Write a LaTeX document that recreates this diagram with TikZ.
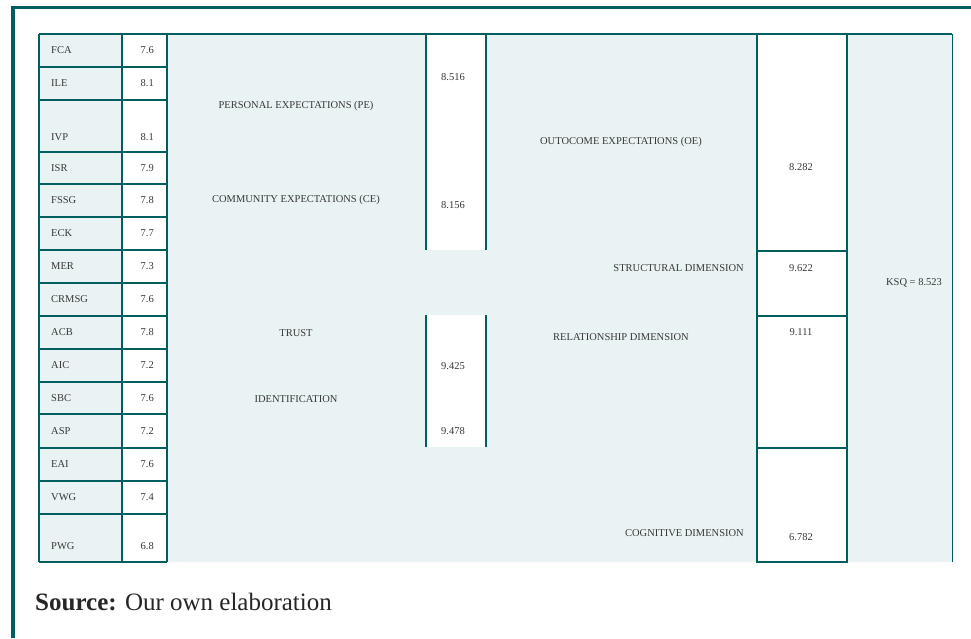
\documentclass[tikz,border=0pt]{standalone}
\usepackage{fontspec}
\setmainfont{Liberation Serif}
\usepackage{tikz}
\definecolor{framecolor}{RGB}{0,94,94}
\definecolor{cellfill}{RGB}{234,243,243}
\definecolor{textgray}{RGB}{55,55,55}

\begin{document}
\begin{tikzpicture}[
    x=1pt, y=-1pt,
    cell/.style={inner sep=0pt, font=\fontsize{10.5}{12}\selectfont, text=textgray},
    code/.style={cell, anchor=west},
    score/.style={cell, anchor=east},
    factor/.style={cell, anchor=center},
    gridline/.style={draw=framecolor, line width=1.8pt},
    thinline/.style={draw=framecolor, line width=0.8pt}
]
    \useasboundingbox (0,0) rectangle (971,638);

    % backgrounds
    \fill[cellfill] (39,34) rectangle (122,562);
    \fill[cellfill] (167,34) rectangle (757,562);
    \fill[white] (426,34) rectangle (486,250);
    \fill[white] (426,315) rectangle (486,447);
    \fill[cellfill] (847,34) rectangle (952,562);

    % outer frame
    \draw[framecolor, line width=3.5pt] (13,638) -- (13,7.5) -- (971,7.5);

    % grid
    \draw[gridline] (39,34) -- (952,34);
    \draw[thinline] (952,34) -- (952,562);
    \draw[gridline] (39,34) -- (39,562) (122,34) -- (122,562) (167,34) -- (167,562);
    \draw[gridline] (39,67) -- (167,67) (39,100) -- (167,100) (39,152) -- (167,152)
        (39,184) -- (167,184) (39,217) -- (167,217) (39,250) -- (167,250)
        (39,283) -- (167,283) (39,316) -- (167,316) (39,349) -- (167,349)
        (39,382) -- (167,382) (39,414) -- (167,414) (39,448) -- (167,448)
        (39,481) -- (167,481) (39,514) -- (167,514) (39,562) -- (167,562);
    \draw[gridline] (426,34) -- (426,250) (486,34) -- (486,250);
    \draw[gridline] (426,315) -- (426,447) (486,315) -- (486,447);
    \draw[gridline] (757,34) rectangle (847,562);
    \draw[gridline] (757,251) -- (847,251) (757,316) -- (847,316) (757,448) -- (847,448);

    % indicators
    \node[code] (fca) at (51,50.5) {FCA};     \node[score] (fcav) at (154,50.5) {7.6};
    \node[code] (ile) at (51,83.5) {ILE};     \node[score] (ilev) at (154,83.5) {8.1};
    \node[code] (ivp) at (51,137) {IVP};      \node[score] (ivpv) at (154,137) {8.1};
    \node[code] (isr) at (51,168) {ISR};      \node[score] (isrv) at (154,168) {7.9};
    \node[code] (fssg) at (51,200.5) {FSSG};  \node[score] (fssgv) at (154,200.5) {7.8};
    \node[code] (eck) at (51,233.5) {ECK};    \node[score] (eckv) at (154,233.5) {7.7};
    \node[code] (mer) at (51,266.5) {MER};    \node[score] (merv) at (154,266.5) {7.3};
    \node[code] (crmsg) at (51,299.5) {CRMSG}; \node[score] (crmsgv) at (154,299.5) {7.6};
    \node[code] (acb) at (51,332.5) {ACB};    \node[score] (acbv) at (154,332.5) {7.8};
    \node[code] (aic) at (51,365.5) {AIC};    \node[score] (aicv) at (154,365.5) {7.2};
    \node[code] (sbc) at (51,398) {SBC};      \node[score] (sbcv) at (154,398) {7.6};
    \node[code] (asp) at (51,431) {ASP};      \node[score] (aspv) at (154,431) {7.2};
    \node[code] (eai) at (51,464.5) {EAI};    \node[score] (eaiv) at (154,464.5) {7.6};
    \node[code] (vwg) at (51,497.5) {VWG};    \node[score] (vwgv) at (154,497.5) {7.4};
    \node[code] (pwg) at (51,546) {PWG};      \node[score] (pwgv) at (154,546) {6.8};

    % factors
    \node[factor] (pe) at (296,106) {PERSONAL EXPECTATIONS (PE)};
    \node[factor] (ce) at (296,200) {COMMUNITY EXPECTATIONS (CE)};
    \node[factor] (trust) at (296,333) {TRUST};
    \node[factor] (ident) at (296,399) {IDENTIFICATION};
    \node[factor] (pev) at (453,77) {8.516};
    \node[factor] (cev) at (453,205) {8.156};
    \node[factor] (trustv) at (453,366.5) {9.425};
    \node[factor] (identv) at (453,431.5) {9.478};

    % dimensions
    \node[factor] (oe) at (621,141.5) {OUTOCOME EXPECTATIONS (OE)};
    \node[cell, anchor=east] (sd) at (744,268) {STRUCTURAL DIMENSION};
    \node[factor] (rd) at (621,337) {RELATIONSHIP DIMENSION};
    \node[cell, anchor=east] (cd) at (744,533) {COGNITIVE DIMENSION};
    \node[factor] (oev) at (801,167) {8.282};
    \node[factor] (sdv) at (801,268) {9.622};
    \node[factor] (rdv) at (801,332) {9.111};
    \node[factor] (cdv) at (801,537) {6.782};
    \node[factor] (ksq) at (914,283) {KSQ = 8.523};

    \node[anchor=base west, inner sep=0pt, font=\fontsize{25}{30}\selectfont, text=black!85] (source) at (35,610) {\textbf{Source:} Our own elaboration};
\end{tikzpicture}
\end{document}
